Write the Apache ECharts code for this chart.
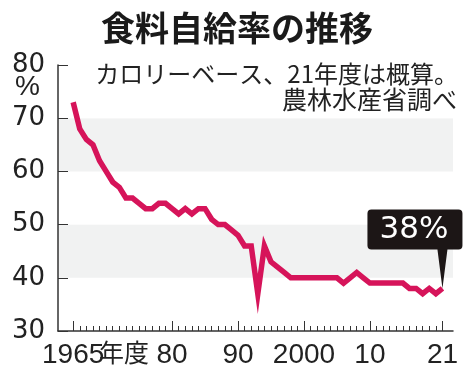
<!DOCTYPE html>
<html><head><meta charset="utf-8">
<script src="https://cdn.jsdelivr.net/npm/echarts@6/dist/echarts.min.js"></script>
<style>html,body{margin:0;padding:0;background:#fff}#c{width:474px;height:377px}</style>
</head><body><div id="c"></div>
<script>
const years = [1965,1966,1967,1968,1969,1970,1971,1972,1973,1974,1975,1976,1977,1978,1979,1980,1981,1982,1983,1984,1985,1986,1987,1988,1989,1990,1991,1992,1993,1994,1995,1996,1997,1998,1999,2000,2001,2002,2003,2004,2005,2006,2007,2008,2009,2010,2011,2012,2013,2014,2015,2016,2017,2018,2019,2020,2021];
const rates = [73,68,66,65,62,60,58,57,55,55,54,53,53,54,54,53,52,53,52,53,53,51,50,50,49,48,46,46,37,46,43,42,41,40,40,40,40,40,40,40,40,39,40,41,40,39,39,39,39,39,39,38,38,37,38,37,38];
const majorYears = [1965,1980,1990,2000,2010,2021];
const majorLabels = {1965:'1965',1980:'80',1990:'90',2000:'2000',2010:'10',2021:'21'};
const yearUnit = '年度';
const titleText = '食料自給率の推移';
const noteLine1 = 'カロリーベース、21年度は概算。';
const noteLine2 = '農林水産省調べ';
const calloutText = '38%';

const FONT = "'Liberation Sans','Noto Sans CJK JP',sans-serif";
const WIDE = "'DejaVu Sans',sans-serif";
const JP = "'Noto Sans CJK JP',sans-serif";
const LINE = '#d6145a';
const chart = echarts.init(document.getElementById('c'));
const pts = years.map((y,i)=>[y,rates[i]]);
chart.setOption({
  animation:false,
  textStyle:{fontFamily:FONT},
  title:[
    {text:titleText,left:'center',top:11,padding:0,textStyle:{fontFamily:JP,fontSize:34,fontWeight:'bold',color:'#1a1a1a'}},
    {text:noteLine1,right:16,top:62,padding:0,textStyle:{fontFamily:JP,fontSize:24,fontWeight:'normal',color:'#222'}},
    {text:noteLine2,right:17,top:87,padding:0,textStyle:{fontFamily:JP,fontSize:25,fontWeight:'normal',color:'#222'}},
    {text:'%',left:15,top:73,padding:0,textStyle:{fontFamily:FONT,fontSize:28,fontWeight:'normal',color:'#222'}}
  ],
  graphic:[
    {type:'text',left:99,top:340,style:{text:yearUnit,fontSize:25,fontFamily:JP,fill:'#222'}}
  ],
  grid:{left:58,right:21,top:65,bottom:46,outerBoundsMode:'none',containLabel:false},
  xAxis:[
    {type:'value',min:1962.7,max:2022.6,position:'bottom',
     axisLine:{show:true,onZero:false,lineStyle:{color:'#333',width:1.5}},
     axisTick:{show:true,inside:true,length:5,customValues:years,lineStyle:{color:'#333',width:1}},
     axisLabel:{show:false},splitLine:{show:false}},
    {type:'value',min:1962.7,max:2022.6,position:'bottom',
     axisLine:{show:false},
     axisTick:{show:true,inside:true,length:10,customValues:majorYears,lineStyle:{color:'#333',width:1}},
     axisLabel:{show:true,customValues:majorYears,margin:10,fontSize:28,color:'#222',fontFamily:FONT,
       formatter:v=>majorLabels[v]},
     splitLine:{show:false}}
  ],
  yAxis:{type:'value',min:30,max:80,interval:10,
    axisLine:{show:true,lineStyle:{color:'#333',width:1.5}},
    axisTick:{show:true,inside:true,length:10,lineStyle:{color:'#333',width:1}},
    axisLabel:{margin:13,fontSize:26,color:'#222',fontFamily:WIDE},
    splitLine:{show:false},
    splitArea:{show:true,areaStyle:{color:['#ffffff','#f1f2f2']}}},
  series:[{type:'line',xAxisIndex:0,data:pts,symbol:'none',
    lineStyle:{color:LINE,width:5.5,cap:'butt',join:'miter'},
    markPoint:{
      symbol:'path://M4,0 H91 Q95,0 95,4 V36 Q95,40 91,40 H80 L75,79 L70,40 H4 Q0,40 0,36 V4 Q0,0 4,0 Z',
      symbolSize:[95,79],symbolKeepAspect:false,symbolOffset:[-27.5,-39.5],
      itemStyle:{color:'#1c1616'},
      label:{show:true,formatter:calloutText,color:'#fff',fontSize:31,fontFamily:WIDE,offset:[-1,-19]},
      data:[{coord:[years[years.length-1],rates[rates.length-1]]}]
    }}]
});
</script></body></html>
